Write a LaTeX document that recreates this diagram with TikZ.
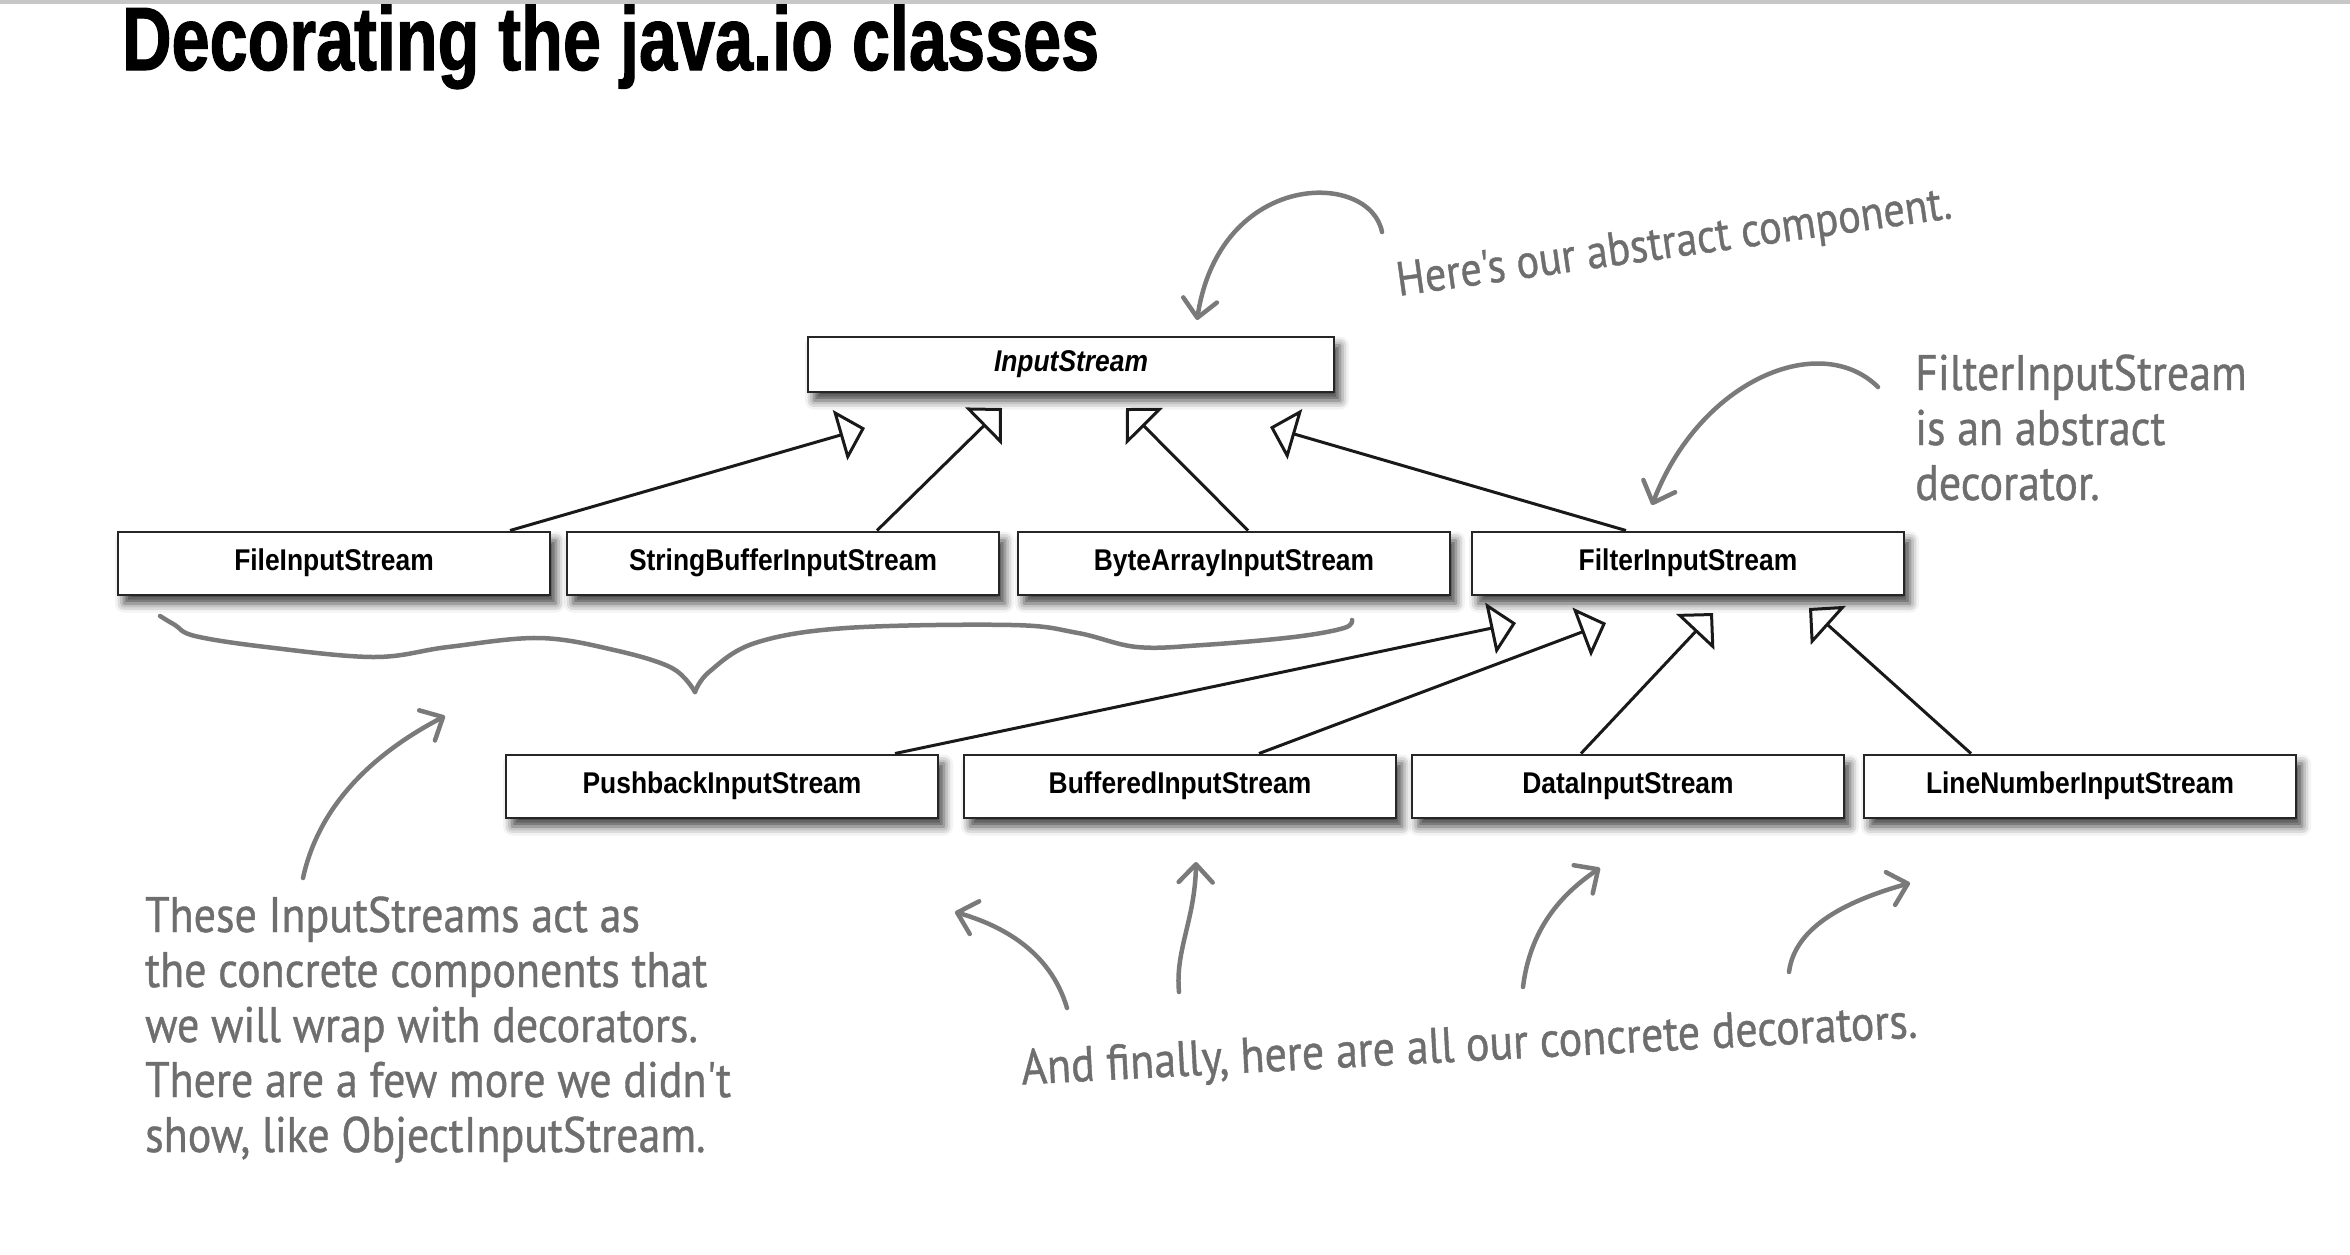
\documentclass[tikz,border=0pt]{standalone}
\usepackage{fontspec}
\setmainfont{Liberation Sans}
\newfontfamily\boxfont[FakeStretch=0.88]{Liberation Sans}
\newfontfamily\handfont[FakeStretch=0.88, FakeBold=0.8]{PT Sans}
\newfontfamily\titlefont[FakeStretch=0.76, FakeBold=1.2]{Liberation Sans}
\usetikzlibrary{arrows.meta,shadows.blur}
\definecolor{pen}{HTML}{7A7A7A}
\definecolor{ink}{HTML}{6E6E6E}
\begin{document}
\begin{tikzpicture}[
  x=1pt, y=-1pt,
  cls/.style={draw=black!85, line width=2pt, fill=white, minimum width=432pt, minimum height=63pt,
    font=\boxfont\fontsize{30}{33}\selectfont\bfseries,
    blur shadow={shadow xshift=6pt, shadow yshift=-9pt, shadow blur radius=9pt, shadow opacity=75}},
  gen/.style={draw=black!90, line width=3pt, -{Triangle[open, length=26pt, width=52pt, line width=3pt]}},
  scribble/.style={draw=pen, line width=4.5pt, line cap=round, line join=round},
  barb/.style={scribble, -{Straight Barb[round, length=18pt, width=34pt]}},
  note/.style={text=ink, font=\handfont\fontsize{50}{55}\selectfont, align=left, inner sep=0pt}
]
\useasboundingbox (0,0) rectangle (2350,1254);
\draw[black!22, line width=4pt] (0,1.5) -- (2350,1.5);
\node[anchor=base west, inner sep=0pt, font=\titlefont\bfseries\fontsize{90}{94}\selectfont] (title) at (122,70) {Decorating the java.io classes};

\node[cls, minimum width=526pt, minimum height=55pt, font=\boxfont\fontsize{30}{33}\selectfont\bfseries\itshape] (is) at (1071,364) {InputStream};
\node[cls] (fileis) at (334,563) {FileInputStream};
\node[cls] (sbis) at (783,563) {StringBufferInputStream};
\node[cls] (bais) at (1234,563) {ByteArrayInputStream};
\node[cls] (fis) at (1688,563) {FilterInputStream};
\node[cls] (pbis) at (722,786) {PushbackInputStream};
\node[cls] (bis) at (1180,786) {BufferedInputStream};
\node[cls] (dis) at (1628,786) {DataInputStream};
\node[cls] (lnis) at (2080,786) {LineNumberInputStream};

\coordinate (t1) at (865,428);
\coordinate (t2) at (1002,408);
\coordinate (t3) at (1126,408);
\coordinate (t4) at (1270,427);
\coordinate (t5) at (1516,623);
\coordinate (t6) at (1606,623);
\coordinate (t7) at (1713,613);
\coordinate (t8) at (1809,608);
\draw[gen] ([xshift=176pt]fileis.north) -- (t1);
\draw[gen] ([xshift=94pt]sbis.north) -- (t2);
\draw[gen] ([xshift=14pt]bais.north) -- (t3);
\draw[gen] ([xshift=-62pt]fis.north) -- (t4);
\draw[gen] ([xshift=173pt]pbis.north) -- (t5);
\draw[gen] ([xshift=79pt]bis.north) -- (t6);
\draw[gen] ([xshift=-47pt]dis.north) -- (t7);
\draw[gen] ([xshift=-109pt]lnis.north) -- (t8);

\node[note, rotate=8, anchor=base, font=\handfont\fontsize{48}{55}\selectfont] (hdr) at (1676,257) {Here's our abstract component.};
\node[note, anchor=base west] (fnote) at (1915,500) {FilterInputStream\\is an abstract\\decorator.};
\node[note, anchor=base west] (lnote) at (145,1152) {These InputStreams act as\\the concrete components that\\we will wrap with decorators.\\There are a few more we didn't\\show, like ObjectInputStream.};
\node[note, rotate=3, anchor=base] (bnote) at (1470,1061) {And finally, here are all our concrete decorators.};

\draw[barb] (1382,232) .. controls (1370,170) and (1220,170) .. (1197,320);
\draw[barb] (1878,387) .. controls (1820,330) and (1700,380) .. (1652,505);
\draw[scribble] plot[smooth, tension=0.6] coordinates {(160,616) (175,625) (195,636) (266,647) (374,657) (448,647) (539,638) (614,650) (672,668) (695,692)};
\draw[scribble] plot[smooth, tension=0.6] coordinates {(695,692) (709,672) (755,643) (846,628) (1012,625) (1078,633) (1137,647) (1203,645) (1294,637) (1344,628) (1352,620)};
\draw[barb] (303,878) .. controls (320,800) and (380,750) .. (445,716);
\draw[barb] (1067,1008) .. controls (1050,950) and (1000,925) .. (955,912);
\draw[barb] (1179,992) .. controls (1175,950) and (1195,920) .. (1196,862);
\draw[barb] (1523,987) .. controls (1530,930) and (1560,895) .. (1600,868);
\draw[barb] (1789,972) .. controls (1795,925) and (1850,900) .. (1910,883);
\end{tikzpicture}
\end{document}
